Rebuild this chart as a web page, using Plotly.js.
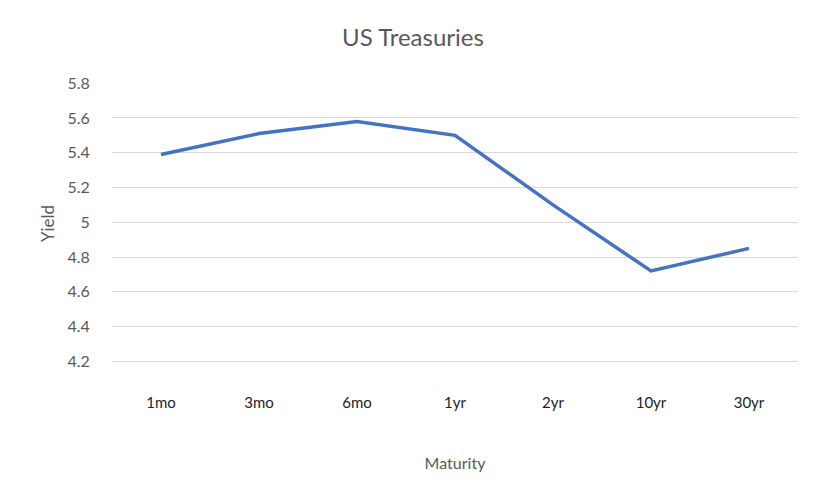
<!DOCTYPE html>
<html>
<head>
<meta charset="utf-8">
<script src="https://cdn.plot.ly/plotly-3.0.1.min.js"></script>
<style>
  html, body { margin: 0; padding: 0; background: #fff; }
  #chart { width: 817px; height: 495px; }
</style>
</head>
<body>
<div id="chart"></div>
<script>
// maturities on the category axis
var maturities = ['1mo', '3mo', '6mo', '1yr', '2yr', '10yr', '30yr']
// yields
var yields = [5.39, 5.51, 5.58, 5.50, 5.10, 4.72, 4.85]
var yTicks = [4.2, 4.4, 4.6, 4.8, 5, 5.2, 5.4, 5.6, 5.8]
var yTickText = ['4.2', '4.4', '4.6', '4.8', '5', '5.2', '5.4', '5.6', '5.8']

var grey = '#595959'
var fontFamily = 'Lato, "Open Sans", sans-serif'

var trace = {
    x: maturities,
    y: yields,
    type: 'scatter',
    mode: 'lines',
    line: { color: '#4472C4', width: 3.5 },
    hoverinfo: 'x+y'
}

var layout = {
    width: 817,
    height: 495,
    margin: { l: 112, r: 19, t: 83, b: 131 },
    paper_bgcolor: '#fff',
    plot_bgcolor: '#fff',
    showlegend: false,
    font: { family: fontFamily, color: grey },
    title: {
        text: 'US Treasuries',
        font: { size: 24, color: grey, family: fontFamily },
        x: 0.5055, xanchor: 'center',
        y: 1 - 38 / 495, yanchor: 'middle', yref: 'container'
    },
    xaxis: {
        type: 'category',
        range: [-0.5, 6.5],
        showgrid: false,
        zeroline: false,
        showline: false,
        ticks: 'outside',
        ticklen: 25,
        tickcolor: 'rgba(0,0,0,0)',
        tickfont: { size: 15, color: '#222', family: fontFamily },
        title: {
            text: 'Maturity',
            font: { size: 16, color: grey, family: fontFamily },
            standoff: 47
        },
        automargin: true
    },
    yaxis: {
        range: [4.185, 5.801],
        tickvals: yTicks,
        ticktext: yTickText,
        showgrid: true,
        gridcolor: '#d9d9d9',
        gridwidth: 1,
        zeroline: false,
        showline: false,
        ticks: 'outside',
        ticklen: 18,
        tickcolor: 'rgba(0,0,0,0)',
        tickfont: { size: 16, color: grey, family: fontFamily },
        title: {
            text: 'Yield',
            font: { size: 17, color: grey, family: fontFamily },
            standoff: 8
        },
        automargin: true
    }
}

Plotly.newPlot('chart', [trace], layout, { displayModeBar: false, staticPlot: true })
</script>
</body>
</html>
